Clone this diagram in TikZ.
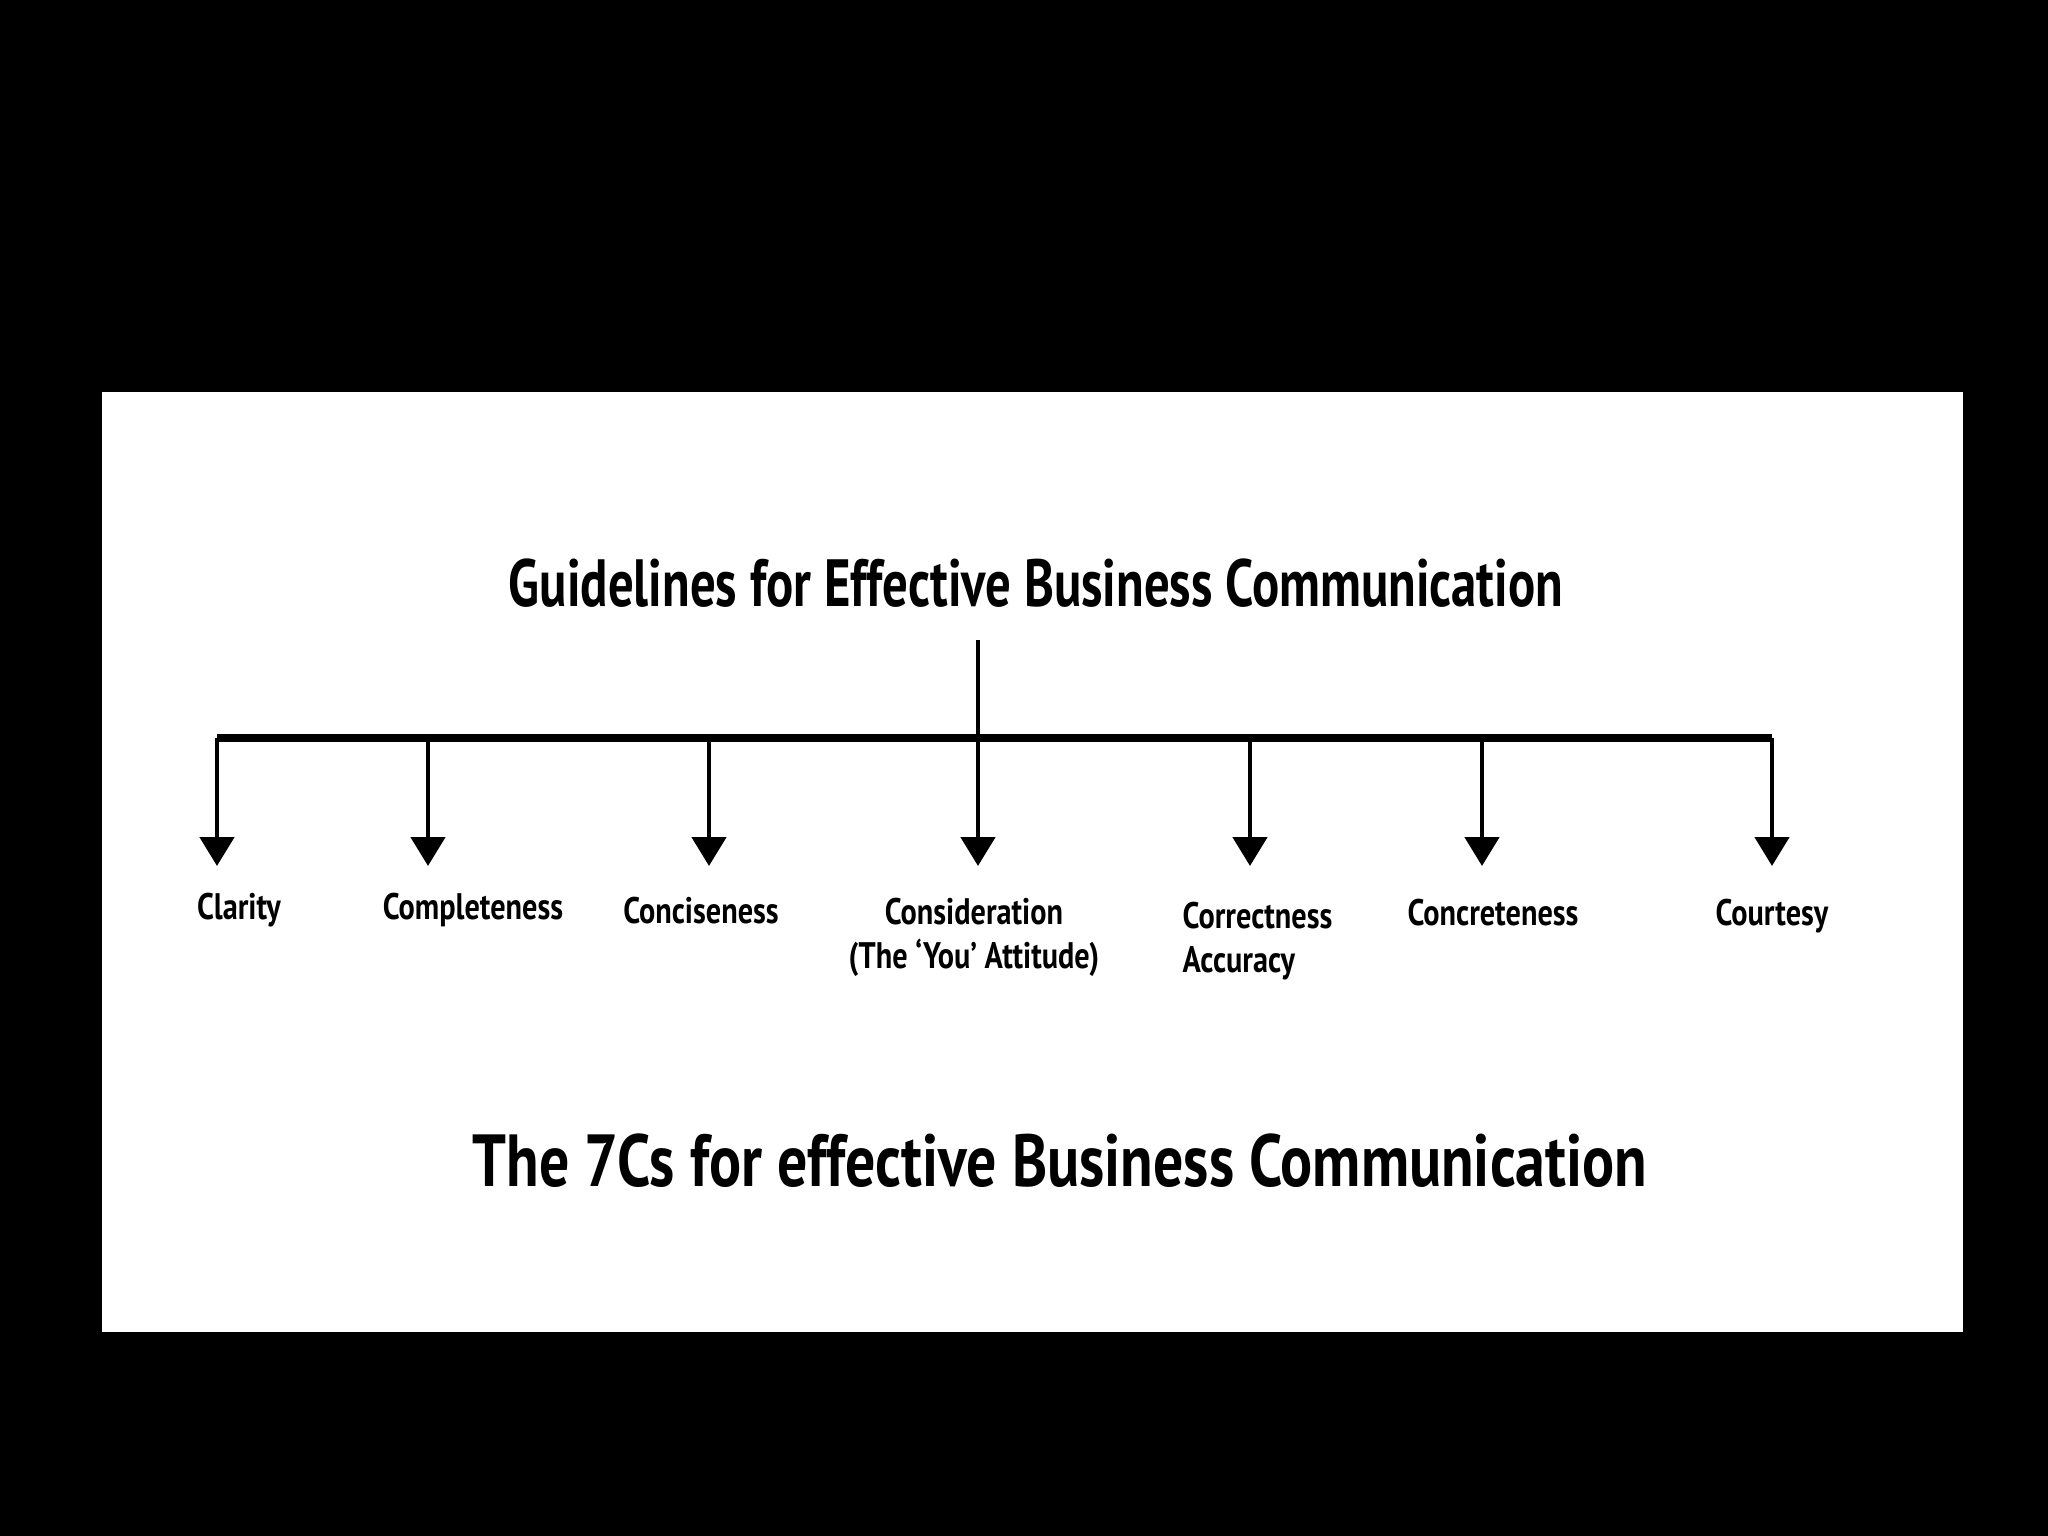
\documentclass[tikz,border=0pt]{standalone}
\usepackage{fontspec}
\setmainfont[FakeStretch=0.76]{PT Sans}
\newfontfamily\captionfont[FakeStretch=0.81]{PT Sans}
\newfontfamily\qualityfont[FakeStretch=0.82]{PT Sans}
\usetikzlibrary{arrows.meta}

\begin{document}
\begin{tikzpicture}
        \tikzset{heading/.style = {font=\bfseries\fontsize{19}{23}\selectfont, anchor=base, inner sep=0}}
        \tikzset{caption/.style = {font=\captionfont\bfseries\fontsize{21}{25}\selectfont, anchor=base, inner sep=0}}
        \tikzset{quality/.style = {font=\qualityfont\bfseries\fontsize{10.5}{12.5}\selectfont, anchor=base, inner sep=0, align=center}}
        \tikzset{branch/.style = {line width=1.4pt, -{Triangle[width=0.34cm,length=0.29cm]}}}

        \fill[black] (0,0) rectangle (20.48,-15.36);
        \fill[white] (1.02,-3.92) rectangle (19.63,-13.32);

        \node[heading] (title) at (10.36,-6.07) {Guidelines for Effective Business Communication};

        \coordinate (top) at (9.78,-6.40);
        \coordinate (hub) at (9.78,-7.38);
        \draw[line width=1.4pt] (top) -- (hub);

        \foreach \x [count=\i] in {2.17,4.28,7.09,9.78,12.50,14.82,17.72} {
            \coordinate (j\i) at (\x,-7.38);
            \coordinate (e\i) at (\x,-8.66);
            \draw[branch] (j\i) -- (e\i);
        }
        \draw[line width=2pt] (j1) -- (j7);

        \node[quality] (clarity) at (2.39,-9.19) {Clarity};
        \node[quality] (complete) at (4.73,-9.19) {Completeness};
        \node[quality] (concise) at (7.01,-9.23) {Conciseness};
        \node[quality] (consider) at (9.74,-9.68) {Consideration\\(The ‘You’ Attitude)};
        \node[quality, anchor=base west, align=left] (correct) at (11.82,-9.72) {Correctness\\Accuracy};
        \node[quality] (concrete) at (14.93,-9.26) {Concreteness};
        \node[quality] (courtesy) at (17.72,-9.26) {Courtesy};

        \node[caption] (sevenc) at (10.60,-11.86) {The 7Cs for effective Business Communication};
    \end{tikzpicture}
\end{document}
